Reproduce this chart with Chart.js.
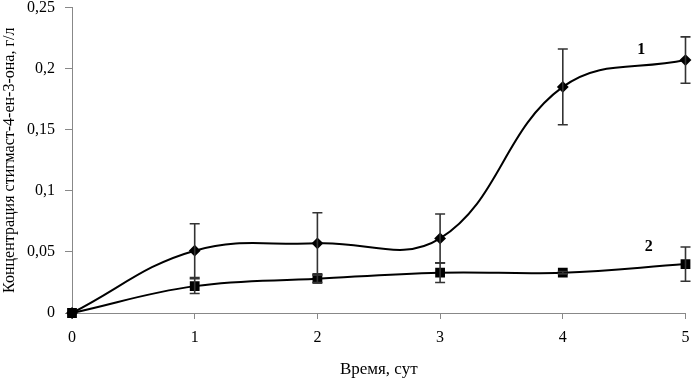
<!DOCTYPE html>
<html>
<head>
<meta charset="utf-8">
<script src="https://cdn.jsdelivr.net/npm/chart.js@4"></script>
<style>
  html, body { margin: 0; padding: 0; background: #fff; }
  #wrap { width: 693px; height: 382px; position: relative; }
</style>
</head>
<body>
<div id="wrap"><canvas id="myChart"></canvas></div>
<script>
// data
var days = [0, 1, 2, 3, 4, 5];
var series1 = [0, 0.051, 0.057, 0.061, 0.185, 0.207];
var err1 = [0, 0.022, 0.025, 0.020, 0.031, 0.019];
var series2 = [0, 0.022, 0.028, 0.033, 0.033, 0.040];
var err2 = [0, 0.006, 0.003, 0.008, 0.001, 0.014];
var yTicks = [0, 0.05, 0.1, 0.15, 0.2, 0.25];
var seriesNames = ["1", "2"];
var nameSpots = [[4.64, 0.215], [4.70, 0.054]];

var toPoints = function(vals) {
    return days.map(function(d, i) { return { x: d, y: vals[i] }; });
};

// error bars + curve numbers
var extras = {
    id: "extras",
    afterDatasetsDraw: function(chart) {
        var ctx = chart.ctx;
        var xs = chart.scales.x;
        var ys = chart.scales.y;
        var sets = [[series1, err1], [series2, err2]];
        ctx.save();
        ctx.strokeStyle = "#333";
        ctx.lineWidth = 1.6;
        sets.forEach(function(s) {
            s[0].forEach(function(v, i) {
                if (!s[1][i]) return;
                var px = xs.getPixelForValue(days[i]);
                var top = ys.getPixelForValue(v + s[1][i]);
                var bot = ys.getPixelForValue(v - s[1][i]);
                ctx.beginPath();
                ctx.moveTo(px, top); ctx.lineTo(px, bot);
                ctx.moveTo(px - 5, top); ctx.lineTo(px + 5, top);
                ctx.moveTo(px - 5, bot); ctx.lineTo(px + 5, bot);
                ctx.stroke();
            });
        });
        ctx.fillStyle = "#000";
        ctx.font = "bold 16px 'Liberation Serif'";
        ctx.textAlign = "center";
        ctx.textBaseline = "middle";
        nameSpots.forEach(function(p, i) {
            ctx.fillText(seriesNames[i], xs.getPixelForValue(p[0]), ys.getPixelForValue(p[1]));
        });
        ctx.restore();
    }
};

var fmt = function(v) {
    return Number(v.toFixed(2)).toString().replace(".", ",");
};

var serif = { family: "'Liberation Serif', 'Times New Roman', serif", size: 16 };

var ctx = document.getElementById("myChart");
var myChart = new Chart(ctx, {
    type: "line",
    data: {
        datasets: [{
            label: seriesNames[0],
            data: toPoints(series1),
            borderColor: "#000",
            backgroundColor: "#000",
            borderWidth: 2,
            tension: 0.4,
            pointStyle: "rectRot",
            pointRadius: 4.5,
            pointHoverRadius: 4.5,
            clip: false
        }, {
            label: seriesNames[1],
            data: toPoints(series2),
            borderColor: "#000",
            backgroundColor: "#000",
            borderWidth: 2,
            tension: 0.4,
            pointStyle: "rect",
            pointRadius: 5.5,
            pointHoverRadius: 5.5,
            clip: false
        }]
    },
    options: {
        responsive: true,
        maintainAspectRatio: false,
        animation: false,
        events: [],
        layout: { padding: { top: 5, right: 4, left: 0, bottom: 0 } },
        plugins: {
            legend: { display: false },
            tooltip: { enabled: false }
        },
        scales: {
            x: {
                type: "linear",
                min: 0,
                max: 5,
                border: { color: "#888", width: 1 },
                grid: { drawOnChartArea: false, drawTicks: true, tickLength: 6, color: "#888" },
                ticks: {
                    stepSize: 1,
                    padding: 9,
                    color: "#000",
                    font: serif
                },
                title: {
                    display: true,
                    text: "Время, сут",
                    color: "#000",
                    font: { family: serif.family, size: 17 },
                    padding: { top: 0, bottom: 2 }
                },
                afterFit: function(scale) {
                    scale.height = 69;
                    scale.paddingLeft = 0;
                    scale.paddingRight = 0;
                }
            },
            y: {
                min: 0,
                max: 0.25,
                border: { color: "#888", width: 1 },
                grid: { drawOnChartArea: false, drawTicks: true, tickLength: 7, color: "#888" },
                afterBuildTicks: function(scale) {
                    scale.ticks = yTicks.map(function(v) { return { value: v }; });
                },
                ticks: {
                    padding: 10,
                    color: "#000",
                    font: serif,
                    callback: function(v) { return fmt(v); }
                },
                title: {
                    display: true,
                    text: "Концентрация стигмаст-4-ен-3-она, г/л",
                    color: "#000",
                    font: { family: serif.family, size: 16 },
                    padding: { top: 0, bottom: 0 }
                },
                afterFit: function(scale) {
                    scale.width = 72;
                    scale.paddingTop = 0;
                    scale.paddingBottom = 0;
                }
            }
        }
    },
    plugins: [extras]
});
</script>
</body>
</html>
